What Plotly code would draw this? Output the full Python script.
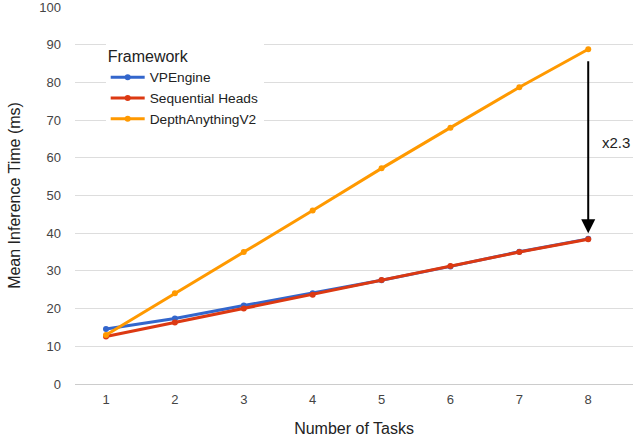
import plotly.graph_objects as go

tasks = [1, 2, 3, 4, 5, 6, 7, 8]
vpengine = [14.6, 17.4, 20.8, 24.1, 27.5, 31.2, 35.1, 38.5]
sequential = [12.6, 16.3, 20.0, 23.7, 27.6, 31.3, 35.0, 38.4]
depthanything = [13.0, 24.1, 35.0, 46.0, 57.2, 68.0, 78.7, 88.8]
y_ticks = [0, 10, 20, 30, 40, 50, 60, 70, 80, 90, 100]

series = [
    ("VPEngine", vpengine, "#3366CC"),
    ("Sequential Heads", sequential, "#DC3912"),
    ("DepthAnythingV2", depthanything, "#FF9900"),
]

fig = go.Figure()
for name, vals, color in series:
    fig.add_trace(go.Scatter(
        x=tasks, y=vals, name=name, mode="lines+markers",
        line=dict(color=color, width=3),
        marker=dict(color=color, size=6),
    ))

fig.add_annotation(
    x=8, y=40, ax=8, ay=86, xref="x", yref="y", axref="x", ayref="y",
    showarrow=True, arrowhead=2, arrowsize=1.4, arrowwidth=2, arrowcolor="black",
    text="",
)
fig.add_annotation(
    x=8.40, y=64, xref="x", yref="y", text="x2.3", showarrow=False,
    font=dict(size=15, color="#222"),
)

fig.update_layout(
    width=634, height=442,
    margin=dict(l=75, r=1, t=7, b=58, autoexpand=False),
    paper_bgcolor="white", plot_bgcolor="white",
    font=dict(family="Liberation Sans, Arial, sans-serif", color="#222"),
    legend=dict(
        title=dict(text="Framework", font=dict(size=16, color="#222")),
        x=0.055, y=0.91, xanchor="left", yanchor="top",
        bgcolor="white", font=dict(size=13.7, color="#222"),
        tracegroupgap=0, itemwidth=34,
    ),
    xaxis=dict(
        range=[0.55, 8.65], tickmode="array", tickvals=tasks,
        showgrid=False, zeroline=False, showline=False, automargin=False,
        tickfont=dict(size=13, color="#444"), ticklabelstandoff=6,
        title=dict(text="Number of Tasks", font=dict(size=16, color="#222"), standoff=16),
        ticks="",
    ),
    yaxis=dict(
        range=[0, 100], tickmode="array", tickvals=y_ticks,
        showgrid=True, gridcolor="#DDDDDD", gridwidth=1, automargin=False,
        zeroline=True, zerolinecolor="#CCCCCC", zerolinewidth=1,
        tickfont=dict(size=13, color="#444"), ticklabelstandoff=13,
        ticklabeloverflow="allow",
        title=dict(text="Mean Inference Time (ms)", font=dict(size=16, color="#222"), standoff=14),
        ticks="", ticklen=0,
    ),
)

fig.write_html(
    "out.html",
    config={"displayModeBar": False},
    post_script="document.body.style.margin='0';",
)
